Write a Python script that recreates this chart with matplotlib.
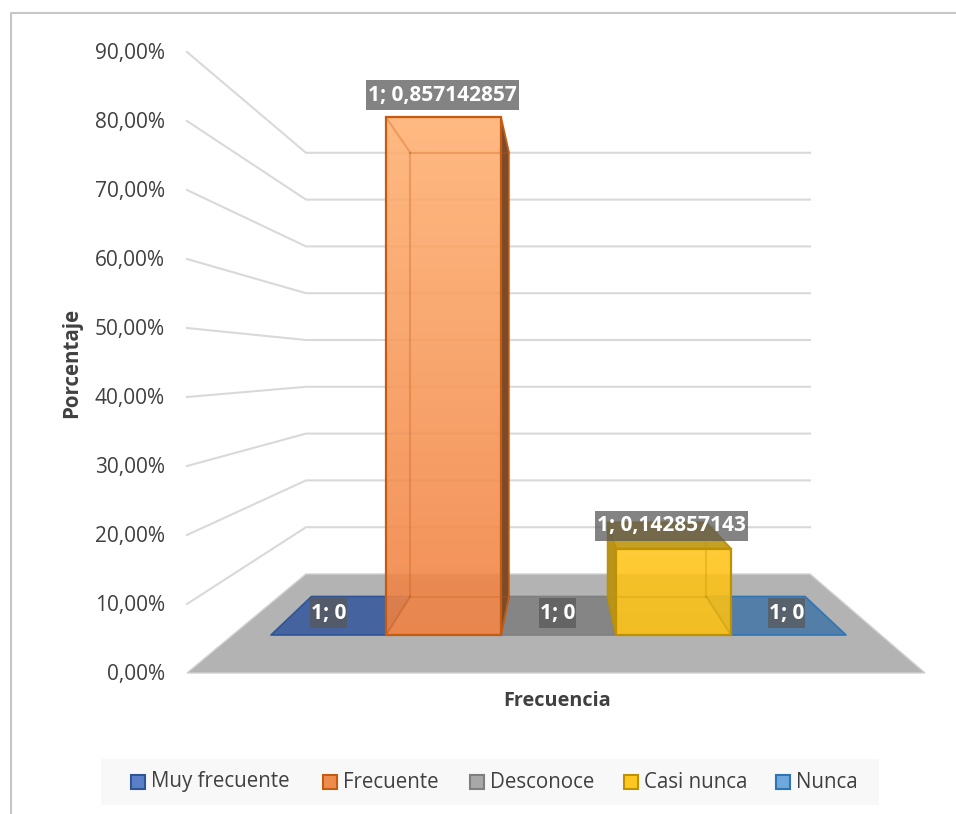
import matplotlib
matplotlib.use('Agg')
import matplotlib.pyplot as plt
import numpy as np
from matplotlib.patches import Polygon, Rectangle

plt.rcParams['font.family'] = ['Open Sans', 'DejaVu Sans']

# datos del grafico
categorias = ['Muy frecuente', 'Frecuente', 'Desconoce', 'Casi nunca', 'Nunca']
valores = [0, 0.857142857, 0, 0.142857143, 0]
etiquetas = ['1; 0', '1; 0,857142857', '1; 0', '1; 0,142857143', '1; 0']
ticks_y = [0, 0.1, 0.2, 0.3, 0.4, 0.5, 0.6, 0.7, 0.8, 0.9]
ticks_txt = ['0,00%', '10,00%', '20,00%', '30,00%', '40,00%', '50,00%', '60,00%', '70,00%', '80,00%', '90,00%']

relleno = ['#44639f', '#f08c4c', '#858585', '#ffc825', '#527ea8']
borde = ['#2f5597', '#c55a11', '#7f7f7f', '#bf9000', '#2e75b6']
swatch = ['#5b7fc9', '#ee8c4e', '#a8a8a8', '#ffc820', '#6fa8dc']

fig = plt.figure(figsize=(9.56, 8.14), dpi=100)
ax = fig.add_axes([0, 0, 1, 1])
ax.set_xlim(0, 956)
ax.set_ylim(814, 0)
ax.axis('off')

# marco del grafico
ax.plot([956, 11, 11], [13, 13, 814], color='#c6c6c6', lw=1.5, zorder=1)

# escalas de la proyeccion (pared, suelo, frente y fondo de las barras)
def y_frente(v):
    return 673 - v * 690

def y_pared(v):
    return 574 - v * 468

def x_barra_frente(i):
    return 271 + 115 * i

def x_barra_fondo(i):
    return 311.5 + 98.7 * i

def y_barra_frente(v):
    return 635 - v * 604

def y_barra_fondo(v):
    return 596.5 - v * 518

# rejilla
for v, txt in zip(ticks_y, ticks_txt):
    if v > 0:
        ax.plot([187, 306, 810], [y_frente(v), y_pared(v), y_pared(v)], color='#d9d9d9', lw=1.5, zorder=2)
    ax.text(165, y_frente(v) + 1.5, txt, ha='right', va='center', fontsize=15, color='#404040', zorder=8)

# suelo
ax.add_patch(Polygon([(187, 673), (306, 574), (810, 574), (925, 673)], fc='#b3b3b3', ec='#d0d0d0', lw=1, zorder=3))

# base de cada categoria
for i in [0, 2, 4]:
    pts = [(x_barra_frente(i), 635), (x_barra_fondo(i), 596.5), (x_barra_fondo(i + 1), 596.5), (x_barra_frente(i + 1), 635)]
    ax.add_patch(Polygon(pts, fc=relleno[i], ec=borde[i], lw=1.2, joinstyle='round', zorder=4))

def barra(i, v, arriba, abajo, lateral, tapa):
    xf0, xf1 = x_barra_frente(i), x_barra_frente(i + 1)
    xb0, xb1 = x_barra_fondo(i), x_barra_fondo(i + 1)
    yf, yb = y_barra_frente(v), y_barra_fondo(v)
    # caras laterales y tapa
    if xb0 < xf0:
        ax.add_patch(Polygon([(xf0, yf), (xb0, yb), (xb0, 596.5), (xf0, 635)], fc=lateral, ec=borde[i], lw=1.2, zorder=5))
    if xb1 > xf1:
        ax.add_patch(Polygon([(xf1, yf), (xb1, yb), (xb1, 596.5), (xf1, 635)], fc=lateral, ec=borde[i], lw=1.2, zorder=5))
    if tapa:
        ax.add_patch(Polygon([(xf0, yf), (xb0, yb), (xb1, yb), (xf1, yf)], fc=tapa, ec=borde[i], lw=1.2, zorder=5))
    # frente con degradado transparente
    c0, c1 = matplotlib.colors.to_rgb(arriba), matplotlib.colors.to_rgb(abajo)
    grad = np.linspace(0, 1, 256)[:, None, None]
    img = np.array(c0)[None, None, :] * (1 - grad) + np.array(c1)[None, None, :] * grad
    ax.imshow(img, extent=[xf0, xf1, 635, yf], aspect='auto', zorder=5.5, alpha=0.88)
    # aristas interiores vistas a traves de la cara
    ax.plot([xf0, xb0], [yf, yb], color=borde[i], alpha=0.3, lw=1.5, zorder=6)
    ax.plot([xf1, xb1], [yf, yb], color=borde[i], alpha=0.3, lw=1.5, zorder=6)
    ax.plot([xf0, xb0], [635, 596.5], color=borde[i], alpha=0.3, lw=1.5, zorder=6)
    ax.plot([xf1, xb1], [635, 596.5], color=borde[i], alpha=0.3, lw=1.5, zorder=6)
    ax.plot([xb0, xb1], [yb, yb], color=borde[i], alpha=0.25, lw=1.5, zorder=6)
    ax.plot([xb0, xb1], [596.5, 596.5], color=borde[i], alpha=0.25, lw=1.5, zorder=6)
    for xb in (xb0, xb1):
        if xf0 < xb < xf1:
            ax.plot([xb, xb], [yb, 596.5], color=borde[i], alpha=0.3, lw=1.5, zorder=6)
    ax.add_patch(Rectangle((xf0, yf), xf1 - xf0, 635 - yf, fc='none', ec=borde[i], lw=1.6, zorder=6.5))

barra(1, valores[1], '#ffb071', '#f08040', '#7a4c2c', None)
barra(3, valores[3], '#ffc41a', '#fcc010', '#b8941a', '#c4a024')
ax.set_xlim(0, 956)
ax.set_ylim(814, 0)

# etiquetas de datos
pos_etq = [(328.5, 613), (442.5, 95), (557.5, 613), (671.5, 526), (786.5, 613)]
anchos = [37, 153, 37, 153, 37]
altos = [30, 30, 30, 30, 30]
for (x, y), w, h, txt in zip(pos_etq, anchos, altos, etiquetas):
    ax.add_patch(Rectangle((x - w / 2, y - h / 2), w, h, fc='#595959', ec='none', alpha=0.75, zorder=8.5))
    ax.text(x, y, txt, ha='center', va='center', fontsize=15, fontweight='bold', color='white', zorder=9)

# titulos de ejes
ax.text(557, 701, 'Frecuencia', ha='center', va='center', fontsize=14.3, fontweight='bold', color='#404040')
ax.text(72, 363, 'Porcentaje', ha='center', va='center', rotation=90, fontsize=14.8, fontweight='bold', color='#404040')

# leyenda
ax.add_patch(Rectangle((101, 759), 778, 46, fc='#f8f8f8', ec='none', zorder=1.5))
x_sw = [131, 323, 470, 624, 776]
for x, c, b, nom in zip(x_sw, swatch, borde, categorias):
    ax.add_patch(Rectangle((x, 775), 14, 14, fc=c, ec=b, lw=1.5, zorder=3))
    ax.text(x + 20, 782, nom, ha='left', va='center', fontsize=14.8, color='#404040', zorder=3)

fig.savefig('out.png', dpi=100)
